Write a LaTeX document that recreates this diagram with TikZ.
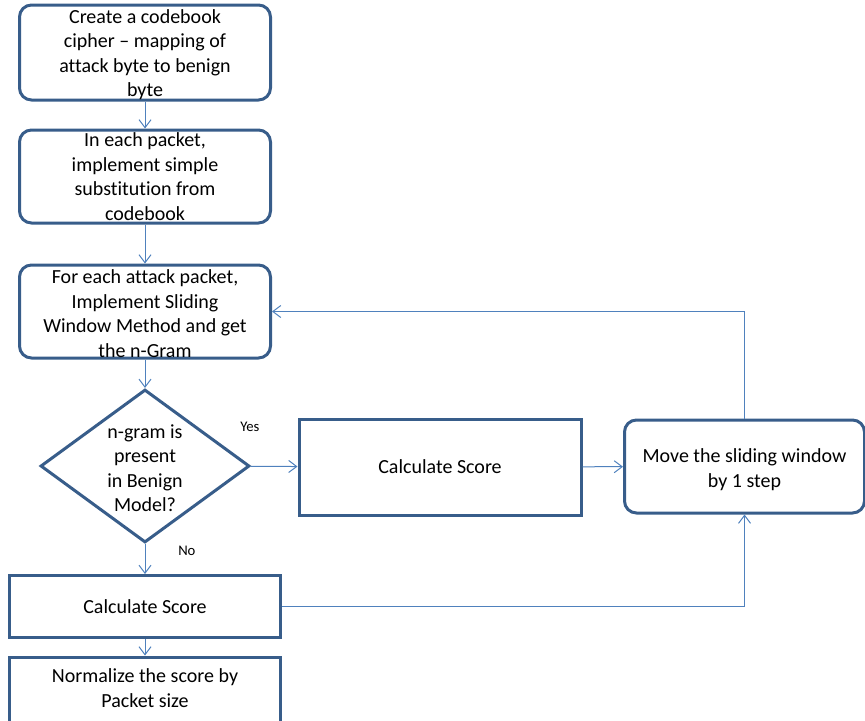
\documentclass[tikz,border=0pt]{standalone}
\usepackage{fontspec}
\setmainfont{Carlito}[Ligatures=NoCommon]
\usetikzlibrary{shapes.geometric,arrows.meta}

\definecolor{boxblue}{RGB}{56,93,138}
\definecolor{linkblue}{RGB}{79,129,189}

\tikzset{
  flowbox/.style={draw=boxblue,line width=2.25pt,rounded corners=9pt,fill=white,inner sep=0pt},
  plainbox/.style={draw=boxblue,line width=2.25pt,fill=white,inner sep=0pt},
  decision/.style={diamond,draw=boxblue,line width=2.25pt,fill=white,inner sep=0pt},
  boxtext/.style={align=center,inner sep=0pt,font=\fontsize{15}{18.4}\selectfont},
  answer/.style={anchor=west,inner sep=0pt,font=\fontsize{11}{13}\selectfont},
  link/.style={draw=linkblue,line width=0.75pt,-{Straight Barb[length=6pt,width=9pt]}}
}

\begin{document}
\begin{tikzpicture}[x=0.75pt,y=0.75pt,yscale=-1,xscale=1]
\useasboundingbox (0,0) rectangle (865,721);

% Left column
\node[flowbox,minimum width=188.25pt,minimum height=71.25pt] (codebook) at (145,52.5) {};
\node[boxtext] at ([yshift=1.5pt]codebook.center) {Create a codebook\\cipher -- mapping of\\attack byte to benign\\byte};

\node[flowbox,minimum width=188.25pt,minimum height=69.75pt] (substitute) at (145,176.5) {};
\node[boxtext] at (substitute) {In each packet,\\implement simple\\substitution from\\codebook};

\node[flowbox,minimum width=188.25pt,minimum height=69.75pt] (window) at (145,311.5) {};
\node[boxtext] at ([yshift=1.5pt]window.center) {For each attack packet,\\Implement Sliding\\Window Method and get\\the n-Gram};

\node[decision,minimum width=156.75pt,minimum height=114.75pt] (check) at (145,466) {};
\node[boxtext] at ([yshift=1.5pt]check.center) {n-gram is\\present\\in Benign\\Model?};

\node[plainbox,minimum width=203.25pt,minimum height=46.5pt] (scoreno) at (145,606.5) {};
\node[boxtext] at (scoreno) {Calculate Score};

\node[plainbox,minimum width=203.25pt,minimum height=52.5pt] (normalize) at (145,692) {};
\node[boxtext] at ([yshift=-3pt]normalize.center) {Normalize the score by\\Packet size};

% Right side
\node[plainbox,minimum width=211.5pt,minimum height=72pt] (scoreyes) at (440,467) {};
\node[boxtext] at (scoreyes) {Calculate Score};

\node[flowbox,minimum width=180pt,minimum height=69.75pt] (move) at (744.5,466.5) {};
\node[boxtext] at ([yshift=2.25pt]move.center) {Move the sliding window\\by 1 step};

% Answers
\node[answer] (yes) at (240,427) {Yes};
\node[answer] (no) at (178,551) {No};

% Connectors
\draw[link] (codebook) -- (substitute);
\draw[link] (substitute) -- (window);
\draw[link] (window) -- (check);
\draw[link] (check) -- (scoreyes);
\draw[link] (scoreyes) -- (move);
\draw[link] (move.north) |- (window.east);
\draw[link] (check) -- (scoreno);
\draw[link] (scoreno) -- (normalize);
\draw[link] (scoreno.east) -| (move.south);
\end{tikzpicture}
\end{document}
